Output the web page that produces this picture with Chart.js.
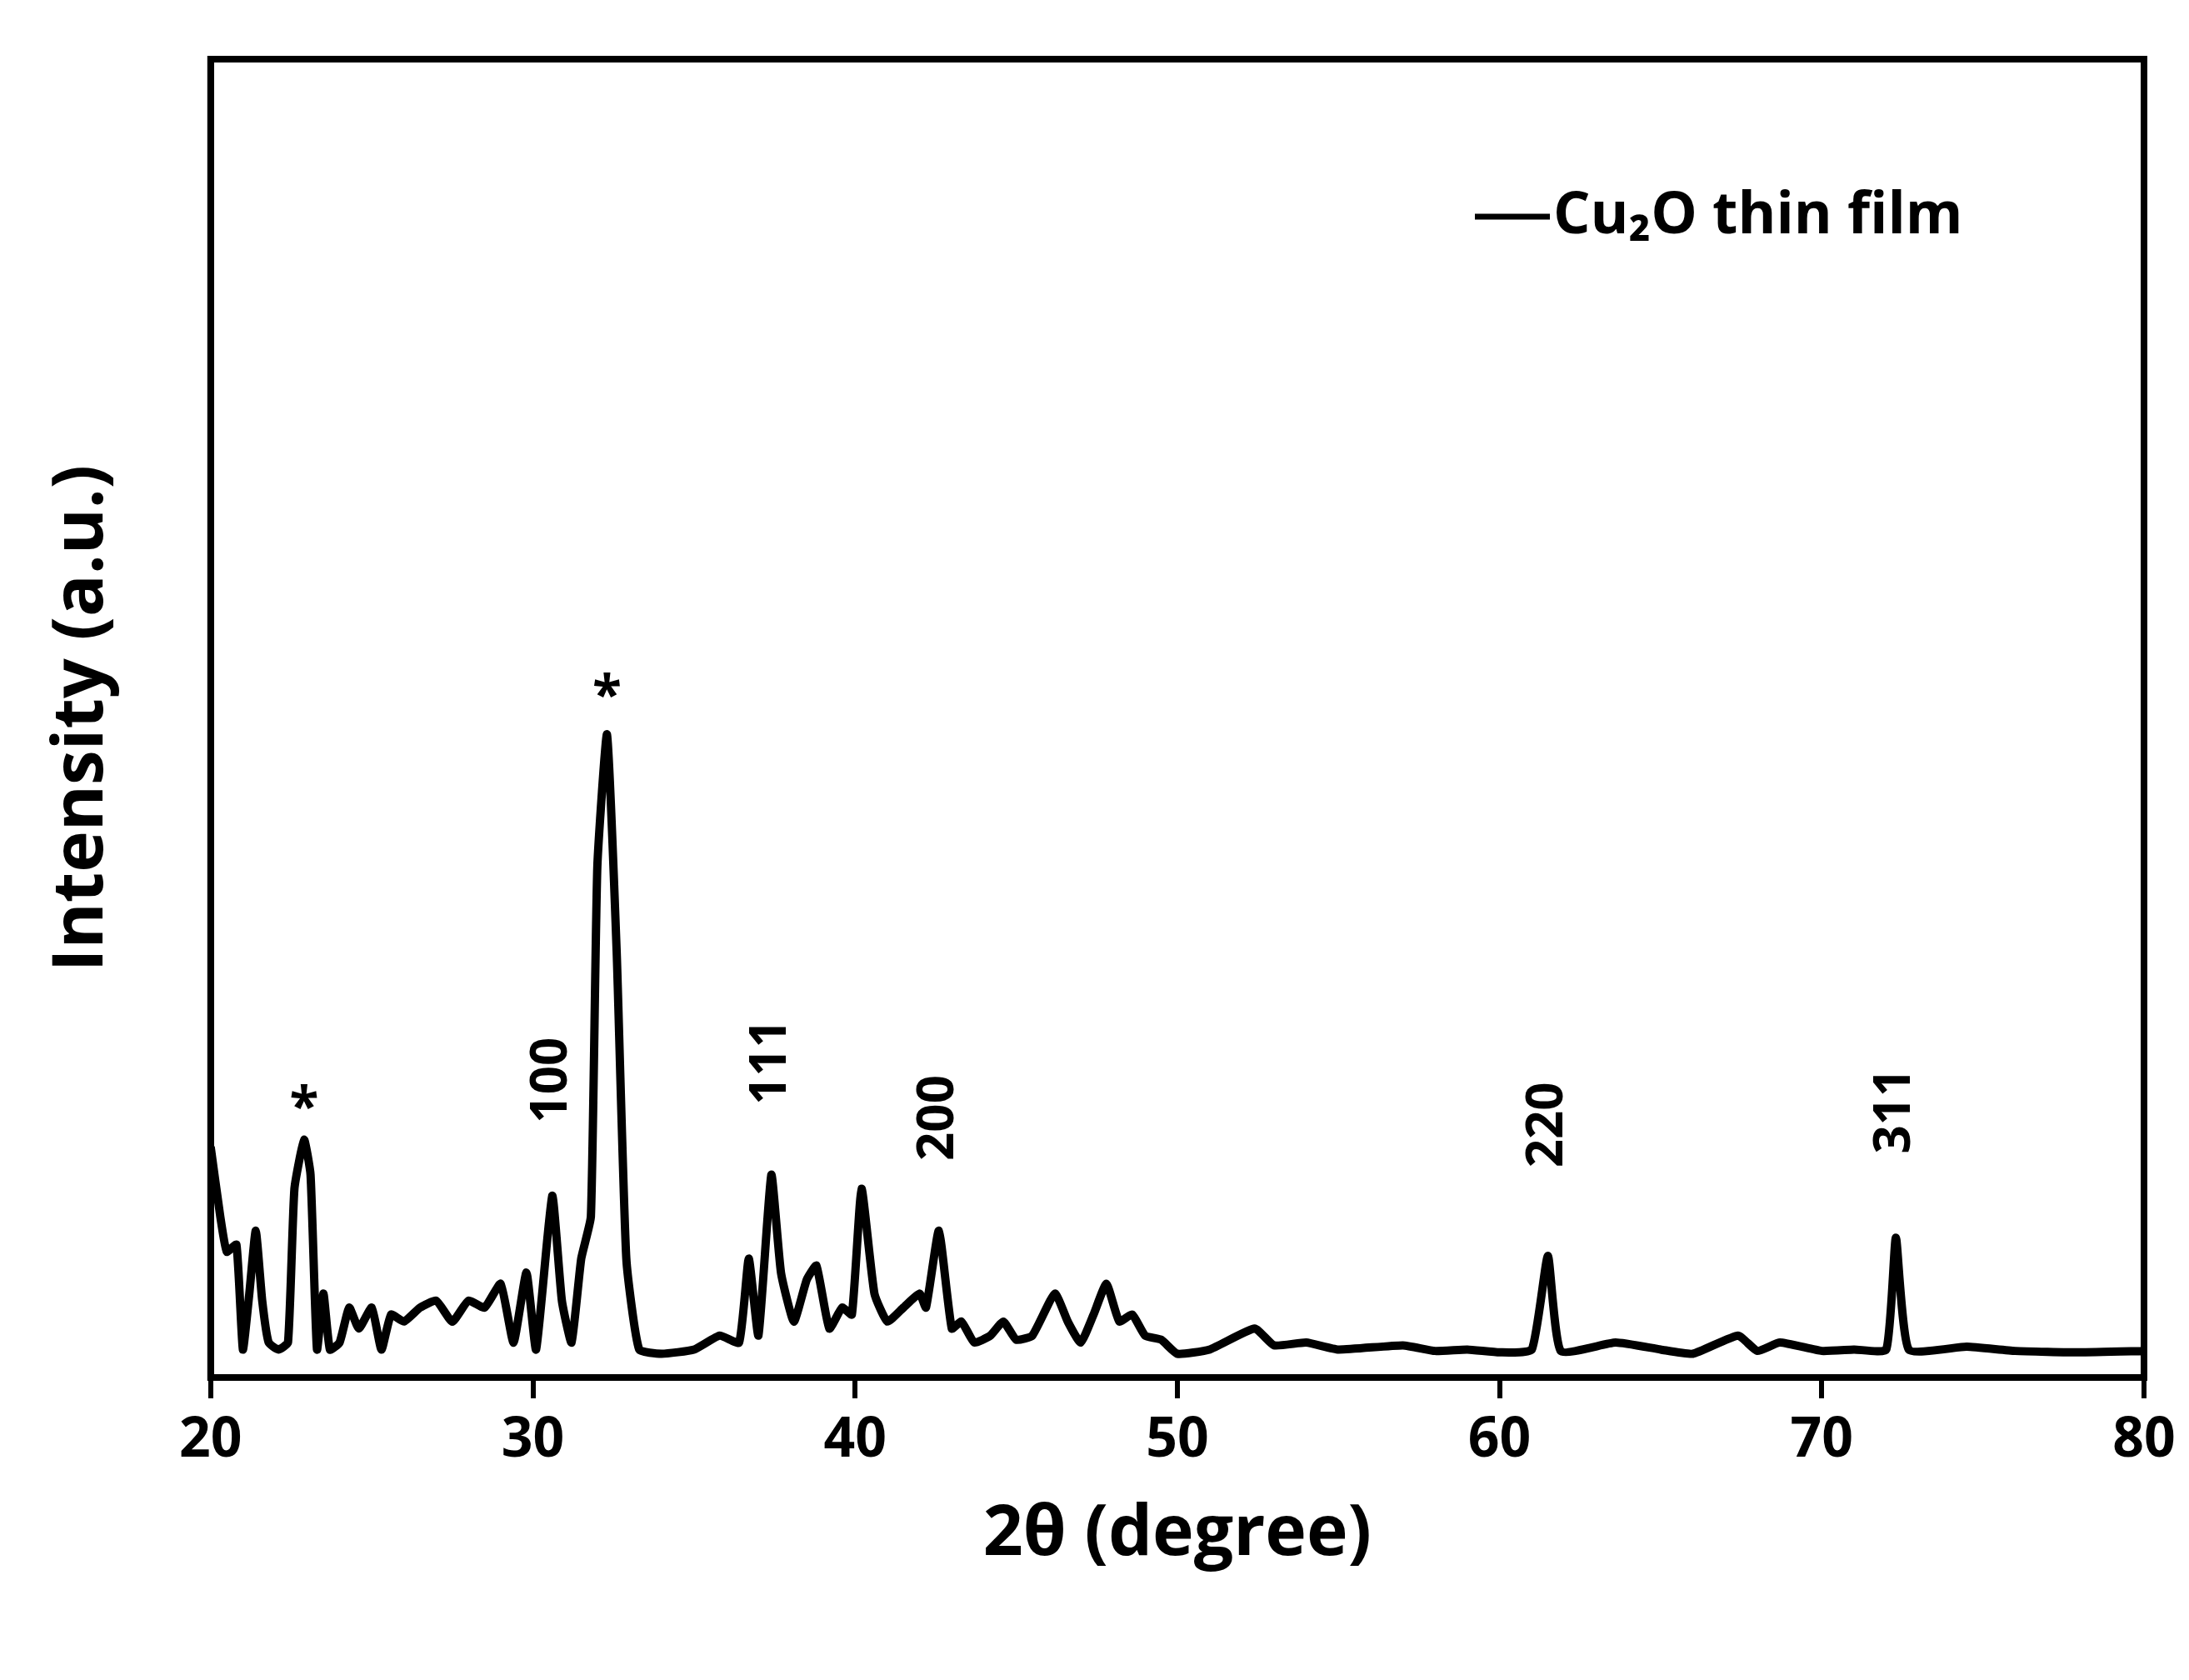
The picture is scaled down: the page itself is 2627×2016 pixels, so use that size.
<!DOCTYPE html>
<html lang="en">
<head>
    <meta charset="UTF-8">
    <script src="https://cdn.jsdelivr.net/npm/chart.js"></script>
    <title>Cu2O XRD</title>
    <style>
        body { margin: 0; background: #fff; }
    </style>
</head>
<body>
    <canvas id="canvas" width="2627" height="2016"></canvas>
    <script>
        // 2theta positions and intensity (a.u.)
        const twoTheta = [20, 20.3, 20.5, 20.8, 21.0, 21.2, 21.4, 21.6, 21.8, 22.1, 22.4, 22.6, 22.9, 23.1, 23.3, 23.5, 23.7, 24.0, 24.3, 24.6,
            25.0, 25.3, 25.6, 26.0, 26.5, 27.0, 27.5, 28.0, 28.5, 29.0, 29.4, 29.8, 30.1, 30.6, 30.9, 31.2, 31.5, 31.8, 32.0, 32.3,
            32.6, 32.9, 33.3, 34, 35, 35.8, 36.4, 36.7, 37.0, 37.4, 37.7, 38.1, 38.5, 38.8, 39.2, 39.6, 39.9, 40.2, 40.6, 41.0,
            41.5, 42.0, 42.2, 42.6, 43.0, 43.3, 43.7, 44.2, 44.6, 45.0, 45.5, 46.2, 46.6, 47.0, 47.4, 47.8, 48.2, 48.6, 49.0, 49.5,
            50, 51, 52.4, 53, 54, 55, 57, 58, 59, 60, 61.0, 61.5, 61.9, 63.6, 65, 66, 67.4, 68, 68.7, 70,
            71, 72.0, 72.3, 72.7, 74.5, 76, 78, 80];
        const intensity = [165, 115, 90, 95, 20, 60, 105, 55, 25, 20, 25, 135, 170, 145, 20, 60, 20, 25, 50, 35,
            50, 20, 45, 40, 50, 55, 40, 55, 50, 67, 25, 75, 20, 130, 55, 25, 85, 115, 365, 460,
            305, 85, 20, 17, 20, 30, 25, 85, 30, 145, 75, 40, 70, 80, 35, 50, 45, 135, 60, 40,
            50, 60, 50, 105, 35, 40, 25, 30, 40, 27, 30, 60, 40, 25, 45, 67, 40, 45, 30, 27,
            17, 20, 35, 23, 25, 20, 23, 19, 20, 18, 20, 87, 19, 25, 20, 17, 30, 19, 25, 19,
            20, 20, 100, 20, 22, 19, 18, 19];

        // peak annotations: [2theta, intensity, text, rotated]
        const peakLabels = [
            [22.9, 190, '*', false],
            [32.3, 485, '*', false],
            [30.6, 182, '100', true],
            [37.4, 195, '111', true],
            [42.6, 155, '200', true],
            [61.5, 150, '220', true],
            [72.3, 160, '311', true]
        ];
        const seriesName = 'Cu\u2082O thin film';
        const xTicks = [20, 30, 40, 50, 60, 70, 80];

        const font = '"Open Sans", "DejaVu Sans", sans-serif';

        const decor = {
            id: 'decor',
            afterDraw(chart) {
                const c = chart.ctx, a = chart.chartArea;
                const xs = chart.scales.x, ys = chart.scales.y;
                c.save();
                // frame
                c.strokeStyle = '#000';
                c.lineWidth = 8;
                c.strokeRect(a.left, a.top, a.right - a.left, a.bottom - a.top);
                // peak labels
                c.fillStyle = '#000';
                peakLabels.forEach(p => {
                    const px = xs.getPixelForValue(p[0]);
                    const py = ys.getPixelForValue(p[1]);
                    if (p[3]) {
                        c.save();
                        c.translate(px, py);
                        c.rotate(-Math.PI / 2);
                        c.font = 'bold 60px ' + font;
                        c.textAlign = 'left';
                        c.textBaseline = 'middle';
                        c.fillText(p[2], 0, 0);
                        c.restore();
                    } else {
                        c.font = 'bold 64px ' + font;
                        c.textAlign = 'center';
                        c.textBaseline = 'bottom';
                        c.fillText(p[2], px, py + 30);
                    }
                });
                // legend
                c.lineWidth = 7;
                c.beginPath();
                c.moveTo(1770, 260);
                c.lineTo(1860, 260);
                c.stroke();
                c.font = 'bold 70px ' + font;
                c.textAlign = 'left';
                c.textBaseline = 'middle';
                c.fillText(seriesName, 1864, 260);
                c.restore();
            }
        };

        new Chart(document.getElementById('canvas'), {
            type: 'line',
            data: {
                datasets: [{
                    label: seriesName,
                    data: twoTheta.map((t, i) => ({ x: t, y: intensity[i] })),
                    borderColor: '#000',
                    borderWidth: 10,
                    pointRadius: 0,
                    tension: 0.15,
                    fill: false
                }]
            },
            options: {
                responsive: false,
                animation: false,
                devicePixelRatio: 1,
                layout: { padding: { top: 71, right: 54, left: 45, bottom: 120 } },
                plugins: { legend: { display: false }, tooltip: { enabled: false } },
                scales: {
                    x: {
                        type: 'linear',
                        min: 20, max: 80,
                        afterBuildTicks: s => { s.ticks = xTicks.map(v => ({ value: v })); },
                        grid: { drawOnChartArea: false, color: '#000', lineWidth: 6, tickLength: 25 },
                        border: { color: '#000', width: 8 },
                        ticks: { color: '#000', font: { family: font, size: 66, weight: 'bold' }, padding: 12 },
                        title: { display: true, text: '2\u03b8 (degree)', color: '#000', font: { family: font, size: 84, weight: 'bold' }, padding: { top: 10 } }
                    },
                    y: {
                        min: 0, max: 943,
                        grid: { display: false },
                        border: { color: '#000', width: 8 },
                        ticks: { display: false },
                        title: { display: true, text: 'Intensity (a.u.)', color: '#000', font: { family: font, size: 84, weight: 'bold' }, padding: { bottom: 95 } }
                    }
                }
            },
            plugins: [decor]
        });
    </script>
</body>
</html>
